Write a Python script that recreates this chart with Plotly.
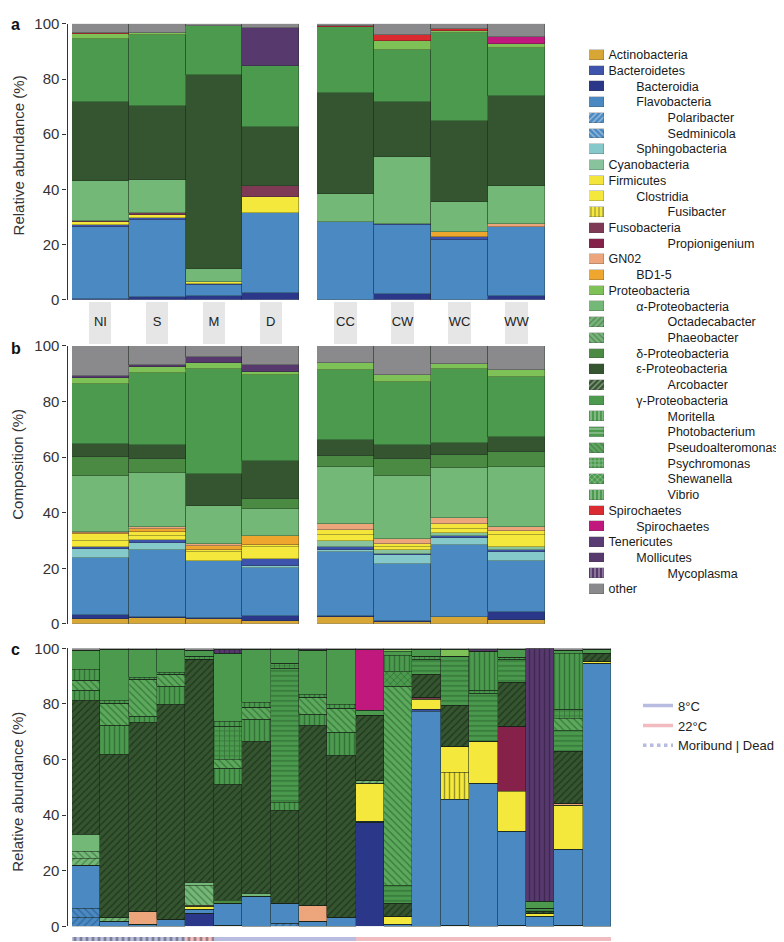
import plotly.graph_objects as go

# ---------------------------------------------------------------- data
samples_left = ["NI", "S", "M", "D"]
samples_right = ["CC", "CW", "WC", "WW"]
samples_c = ["c01", "c02", "c03", "c04", "c05", "c06", "c07", "c08", "c09", "c10",
             "c11", "c12", "c13", "c14", "c15", "c16", "c17", "c18", "c19"]
temperature_c = ["8°C", "8°C", "8°C", "8°C", "22°C", "8°C", "8°C", "8°C", "8°C", "8°C",
                 "22°C", "22°C", "22°C", "22°C", "22°C", "22°C", "22°C", "22°C", "22°C"]
condition_c = ["Moribund", "Moribund", "Moribund", "Moribund", "Moribund",
               "Dead", "Dead", "Dead", "Dead", "Dead", "Dead", "Dead", "Dead", "Dead",
               "Dead", "Dead", "Dead", "Dead", "Dead"]

# legend order (keys), display labels and hierarchy level
taxa = ["Actinobacteria", "Bacteroidetes", "Bacteroidia", "Flavobacteria", "Polaribacter",
        "Sedminicola", "Sphingobacteria", "Cyanobacteria", "Firmicutes", "Clostridia",
        "Fusibacter", "Fusobacteria", "Propionigenium", "GN02", "BD1-5", "Proteobacteria",
        "α-Proteobacteria", "Octadecabacter", "Phaeobacter", "δ-Proteobacteria",
        "ε-Proteobacteria", "Arcobacter", "γ-Proteobacteria", "Moritella", "Photobacterium",
        "Pseudoalteromonas", "Psychromonas", "Shewanella", "Vibrio", "Spirochaetes",
        "Spirochaetes (class)", "Tenericutes", "Mollicutes", "Mycoplasma", "other"]
taxa_label = ["Actinobacteria", "Bacteroidetes", "Bacteroidia", "Flavobacteria", "Polaribacter",
              "Sedminicola", "Sphingobacteria", "Cyanobacteria", "Firmicutes", "Clostridia",
              "Fusibacter", "Fusobacteria", "Propionigenium", "GN02", "BD1-5", "Proteobacteria",
              "α-Proteobacteria", "Octadecabacter", "Phaeobacter", "δ-Proteobacteria",
              "ε-Proteobacteria", "Arcobacter", "γ-Proteobacteria", "Moritella", "Photobacterium",
              "Pseudoalteromonas", "Psychromonas", "Shewanella", "Vibrio", "Spirochaetes",
              "Spirochaetes", "Tenericutes", "Mollicutes", "Mycoplasma", "other"]
taxa_level = [0, 0, 1, 1, 2, 2, 1, 0, 0, 1, 2, 0, 2, 0, 1, 0, 1, 2, 2, 1,
              1, 2, 1, 2, 2, 2, 2, 2, 2, 0, 1, 0, 1, 2, 0]
taxa_color = ["#D8A634", "#3E53AC", "#2B388A", "#4A89C2", "#4A89C2",
              "#4A89C2", "#86C9CA", "#88C39E", "#F4E53A", "#F4E83C",
              "#F4E83C", "#7E3A55", "#86224A", "#EDA67B", "#EEA62F", "#7EC157",
              "#74B877", "#74B877", "#74B877", "#4A8A43",
              "#34552F", "#34552F", "#4B9A4E", "#4B9A4E", "#4B9A4E",
              "#5BAA5C", "#4B9A4E", "#4B9A4E", "#4B9A4E", "#DB2B30",
              "#C0187C", "#5A3C74", "#57396E", "#57396E", "#8A8A8C"]
taxa_pattern = ["", "", "", "", "/", "\\", "", "", "", "", "|", "", "", "", "", "",
                "", "/", "\\", "", "", "/", "", "|", "-", "\\", "+", "x", "|", "",
                "", "", "", "|", ""]
taxa_pattern_color = ["#000", "#000", "#000", "#000", "#1E4A7A", "#1E4A7A", "#000", "#000",
                      "#000", "#000", "#3A3A10", "#000", "#000", "#000", "#000", "#000",
                      "#000", "#24502A", "#24502A", "#000", "#000", "#0E1A0C", "#000",
                      "#1D4A20", "#1D4A20", "#1D4A20", "#1D4A20", "#1D4A20", "#1D4A20",
                      "#000", "#000", "#000", "#000", "#2A1838", "#000"]

# bottom-to-top stacking order
stack_order = ["Actinobacteria", "Bacteroidia", "Polaribacter", "Sedminicola", "Flavobacteria",
               "Sphingobacteria", "Bacteroidetes", "Cyanobacteria", "Fusibacter", "Clostridia",
               "Firmicutes", "Propionigenium", "Fusobacteria", "BD1-5", "GN02",
               "Octadecabacter", "Phaeobacter", "α-Proteobacteria", "δ-Proteobacteria",
               "Arcobacter", "ε-Proteobacteria", "Vibrio", "Photobacterium",
               "Pseudoalteromonas", "Psychromonas", "Shewanella", "Moritella",
               "γ-Proteobacteria", "Proteobacteria", "Spirochaetes (class)", "Spirochaetes",
               "Mycoplasma", "Mollicutes", "Tenericutes", "other"]

# panel a: relative abundance, order NI, S, M, D, CC, CW, WC, WW
panel_a = {
    "Bacteroidia":          [0.5, 1.0, 1.5, 2.6, 0.0, 2.0, 0.0, 1.5],
    "Flavobacteria":        [26.1, 27.9, 3.9, 28.8, 28.1, 25.0, 21.8, 25.0],
    "Bacteroidetes":        [0.5, 0.8, 0.3, 0.0, 0.3, 0.7, 0.9, 0.0],
    "Clostridia":           [1.2, 0.9, 0.8, 5.9, 0.0, 0.0, 0.0, 0.0],
    "Fusobacteria":         [0.4, 0.8, 0.0, 3.9, 0.0, 0.0, 0.0, 0.0],
    "BD1-5":                [0.0, 0.0, 0.0, 0.0, 0.0, 0.0, 2.1, 0.0],
    "GN02":                 [0.0, 0.0, 0.0, 0.0, 0.0, 0.0, 0.0, 1.1],
    "α-Proteobacteria":     [14.5, 11.9, 4.8, 0.0, 9.9, 24.0, 10.6, 13.7],
    "ε-Proteobacteria":     [28.4, 26.9, 70.1, 21.5, 36.8, 20.0, 29.5, 32.6],
    "γ-Proteobacteria":     [22.8, 25.8, 17.8, 21.9, 23.7, 18.9, 31.8, 17.3],
    "Proteobacteria":       [1.9, 0.7, 0.0, 0.0, 0.0, 3.2, 0.8, 1.6],
    "Spirochaetes":         [0.3, 0.0, 0.0, 0.0, 0.6, 2.1, 0.8, 0.0],
    "Spirochaetes (class)": [0.0, 0.0, 0.0, 0.0, 0.0, 0.0, 0.0, 2.5],
    "Mollicutes":           [0.0, 0.0, 0.0, 14.0, 0.0, 0.0, 0.0, 0.0],
    "other":                [3.4, 3.3, 0.8, 1.4, 0.6, 4.1, 1.7, 4.7],
}

# panel b: composition, order NI, S, M, D, CC, CW, WC, WW
panel_b = {
    "Actinobacteria":   [1.8, 2.0, 1.6, 1.2, 2.5, 0.8, 2.4, 1.3],
    "Bacteroidia":      [1.5, 0.6, 0.5, 1.8, 0.3, 0.4, 0.2, 3.0],
    "Flavobacteria":    [20.4, 23.9, 20.4, 17.1, 23.1, 20.3, 25.8, 18.4],
    "Sphingobacteria":  [3.3, 2.6, 0.0, 0.7, 0.6, 3.2, 2.5, 3.0],
    "Bacteroidetes":    [0.8, 1.0, 0.0, 2.5, 1.3, 0.6, 0.9, 1.0],
    "Cyanobacteria":    [0.0, 0.0, 0.0, 0.0, 2.2, 1.2, 0.8, 1.0],
    "Clostridia":       [2.0, 1.4, 3.2, 4.3, 2.0, 1.3, 1.6, 4.3],
    "Firmicutes":       [2.4, 1.5, 0.8, 0.8, 1.8, 0.9, 1.7, 1.3],
    "BD1-5":            [0.4, 1.0, 1.6, 3.4, 0.0, 0.0, 0.0, 0.0],
    "GN02":             [0.6, 0.9, 0.6, 0.0, 2.1, 1.9, 2.1, 1.7],
    "α-Proteobacteria": [20.2, 19.4, 13.8, 9.5, 20.4, 22.7, 18.0, 21.3],
    "δ-Proteobacteria": [6.8, 5.0, 0.0, 3.5, 4.1, 6.2, 4.7, 5.4],
    "ε-Proteobacteria": [4.6, 5.0, 11.6, 13.9, 5.9, 4.7, 4.4, 5.5],
    "γ-Proteobacteria": [21.4, 26.0, 37.6, 30.7, 25.1, 22.7, 26.5, 21.8],
    "Proteobacteria":   [2.2, 2.0, 2.3, 1.3, 2.6, 2.7, 1.8, 2.4],
    "Mollicutes":       [0.9, 0.7, 2.0, 2.5, 0.0, 0.0, 0.0, 0.0],
    "other":            [10.7, 7.0, 4.0, 6.8, 6.0, 10.4, 6.6, 8.6],
}

# panel c: 19 individual samples
panel_c = {
    "Bacteroidia":          [0, 0, 0, 0, 4.6, 0.3, 0, 0, 0, 0, 37.3, 0, 0, 0.5, 0, 0.3, 0, 0.3, 0],
    "Polaribacter":         [3.3, 0, 0, 0, 0, 0, 0, 1.0, 0, 0, 0, 0, 0, 0, 0, 0, 0, 0, 0],
    "Sedminicola":          [3.3, 0, 0, 0, 0, 0, 0, 0, 0, 0, 0, 0, 0, 0, 0, 0, 0, 0, 0],
    "Flavobacteria":        [15.3, 1.9, 0.8, 2.5, 1.5, 7.8, 10.7, 7.1, 1.9, 3.1, 0.6, 0.8, 77.3, 45.0, 51.4, 33.7, 3.7, 27.3, 94.7],
    "Bacteroidetes":        [0, 0, 0, 0, 0, 0, 0, 0, 0, 0, 0, 0, 0.6, 0, 0, 0, 0, 0, 0],
    "Fusibacter":           [0, 0, 0, 0, 0, 0, 0, 0, 0, 0, 0, 0, 0, 10.0, 0, 0, 0, 0, 0],
    "Clostridia":           [0, 0, 0, 0, 1.1, 0, 0, 0, 0, 0, 13.6, 2.6, 3.8, 9.4, 15.3, 14.4, 0.8, 15.9, 0.6],
    "Propionigenium":       [0, 0, 0, 0, 0, 0, 0, 0, 0, 0, 0, 0, 0, 0, 0, 23.6, 0, 0, 0],
    "Fusobacteria":         [0, 0, 0, 0, 0, 0, 0, 0, 0, 0, 0, 0, 0.7, 0, 0, 0, 0, 0, 0],
    "GN02":                 [0, 0, 4.6, 0, 0.5, 0, 0, 0, 5.6, 0, 0, 0, 0, 0, 0, 0, 0, 0.7, 0],
    "Octadecabacter":       [2.7, 1.2, 0, 0, 0, 0, 0, 0, 0, 0, 1.0, 0, 0, 0, 0, 0, 0, 0, 0],
    "Phaeobacter":          [2.4, 0, 0, 0, 7.1, 0, 0, 0, 0, 0, 0, 0, 0, 0, 0, 0, 0, 0, 0],
    "α-Proteobacteria":     [6.1, 0, 0, 0, 1.0, 0, 1.3, 0, 0, 0, 0, 0, 0, 0, 0, 0, 0, 0, 0],
    "δ-Proteobacteria":     [0, 0, 0, 0, 0, 1.2, 0, 0.6, 0, 0, 0, 0, 0, 0, 0, 0, 0, 0, 0],
    "Arcobacter":           [48.3, 58.6, 68.1, 77.2, 80.1, 41.6, 54.7, 33.0, 64.8, 58.3, 23.4, 4.7, 8.2, 14.7, 0, 15.6, 0.8, 18.7, 2.9],
    "Vibrio":               [3.5, 10.6, 2.0, 6.7, 0, 5.9, 7.6, 2.9, 3.8, 8.3, 0, 0, 0, 0, 0, 0, 0, 0, 0],
    "Photobacterium":       [0, 0, 0, 0, 0, 0, 0, 48.3, 0, 0, 0, 6.5, 5.5, 17.4, 17.2, 8.3, 1.3, 7.7, 0],
    "Pseudoalteromonas":    [3.6, 7.9, 13.3, 4.2, 0, 3.2, 4.5, 0, 6.2, 8.7, 0, 71.6, 0, 0, 0, 0, 0, 4.1, 0],
    "Psychromonas":         [0, 0, 0, 0, 1.4, 12.1, 0, 1.6, 0, 0, 0, 0, 0.9, 0, 1.0, 1.0, 0, 3.5, 0],
    "Shewanella":           [0, 0, 0, 0, 0, 0, 0, 0, 0, 0, 0, 5.6, 0, 0, 0, 0, 0, 0, 0],
    "Moritella":            [3.8, 1.2, 0.8, 0.9, 0, 1.6, 1.7, 0, 1.2, 1.6, 0, 5.6, 0, 0, 13.9, 0, 0, 20.0, 0],
    "γ-Proteobacteria":     [7.1, 18.2, 10.1, 8.1, 2.1, 24.5, 19.1, 5.1, 15.8, 19.5, 1.7, 1.4, 2.8, 0, 0, 2.6, 2.4, 1.2, 1.6],
    "Proteobacteria":       [0, 0, 0, 0, 0, 0, 0, 0, 0, 0, 0, 1.0, 0, 2.6, 0, 0, 0, 0, 0],
    "Spirochaetes (class)": [0, 0, 0, 0, 0, 0, 0, 0, 0, 0, 22.2, 0, 0, 0, 0, 0, 0, 0, 0],
    "Mycoplasma":           [0, 0, 0, 0, 0, 1.4, 0, 0, 0, 0, 0, 0, 0, 0, 0, 0, 91.0, 0, 0],
    "Mollicutes":           [0, 0, 0, 0, 0, 0, 0, 0, 0.4, 0, 0, 0, 0, 0, 1.0, 0, 0, 0, 0],
    "other":                [0.6, 0.4, 0.3, 0.4, 0.6, 0.4, 0.4, 0.4, 0.3, 0.5, 0.2, 0.2, 0.2, 0.4, 0.2, 0.5, 0, 0.6, 0.2],
}

temperature_colors = {"8°C": "#B7BCE0", "22°C": "#F2BBC0"}
condition_patterns = {"Moribund": "|", "Dead": ""}

# ---------------------------------------------------------------- helpers
W, H = 784, 942
FONT = "Liberation Sans, Arial, Helvetica, sans-serif"
INDENT = [0, 8, 17]


def dx(a, b):
    return [a / W, b / W]


def dy(top, bottom):
    return [1 - bottom / H, 1 - top / H]


def marker_for(key):
    i = taxa.index(key)
    return dict(
        color=taxa_color[i],
        line=dict(color="rgba(25,35,25,0.55)", width=0.6),
        pattern=dict(shape=taxa_pattern[i], fgcolor=taxa_pattern_color[i],
                     bgcolor=taxa_color[i], fillmode="overlay", size=5, solidity=0.28),
    )


fig = go.Figure()


def add_stack(data, cats, sl, xa, ya):
    for key in stack_order:
        if key not in data:
            continue
        vals = data[key][sl]
        if not any(vals):
            continue
        fig.add_trace(go.Bar(x=cats, y=vals, xaxis=xa, yaxis=ya, name=key,
                             marker=marker_for(key), showlegend=False,
                             hovertemplate=key + ": %{y}%<extra></extra>"))


add_stack(panel_a, samples_left, slice(0, 4), "x", "y")
add_stack(panel_a, samples_right, slice(4, 8), "x2", "y")
add_stack(panel_b, samples_left, slice(0, 4), "x3", "y2")
add_stack(panel_b, samples_right, slice(4, 8), "x4", "y2")
add_stack(panel_c, samples_c, slice(0, 19), "x5", "y3")

# facet strips with sample-group labels
for cats, xa in ((samples_left, "x6"), (samples_right, "x7")):
    fig.add_trace(go.Bar(x=cats, y=[1] * len(cats), width=0.39, xaxis=xa, yaxis="y4",
                         marker=dict(color="#E6E6E6", line=dict(width=0)),
                         showlegend=False, hoverinfo="skip"))
    fig.add_trace(go.Scatter(x=cats, y=[0.5] * len(cats), mode="text", text=cats,
                             textfont=dict(size=13, color="#222", family=FONT),
                             xaxis=xa, yaxis="y4", showlegend=False, hoverinfo="skip"))

# taxa legend as swatch column with labels
nb = "\u00a0"
legend_labels = [nb * INDENT[lv] + lab for lv, lab in zip(taxa_level, taxa_label)]
fig.add_trace(go.Bar(
    y=legend_labels, x=[1] * len(taxa), orientation="h", width=0.62,
    xaxis="x8", yaxis="y5", showlegend=False, hoverinfo="skip",
    marker=dict(color=taxa_color, line=dict(color="rgba(60,60,60,0.5)", width=0.5),
                pattern=dict(shape=taxa_pattern, fgcolor=taxa_pattern_color,
                             bgcolor=taxa_color, fillmode="overlay", size=4, solidity=0.3)),
))

# temperature / condition indicator under panel c
fig.add_trace(go.Bar(
    x=samples_c, y=[1] * len(samples_c), xaxis="x9", yaxis="y6", showlegend=False,
    hoverinfo="skip",
    marker=dict(color=[temperature_colors[t] for t in temperature_c], line=dict(width=0),
                pattern=dict(shape=[condition_patterns[c] for c in condition_c],
                             fgcolor="white", bgcolor=[temperature_colors[t] for t in temperature_c],
                             fillmode="overlay", size=6, solidity=0.45)),
))

# legend entries for panel c indicators
for name, col, dash in (("8°C", temperature_colors["8°C"], "solid"),
                        ("22°C", temperature_colors["22°C"], "solid"),
                        ("Moribund | Dead", temperature_colors["8°C"], "dot")):
    fig.add_trace(go.Scatter(x=[None], y=[None], mode="lines", name=name,
                             line=dict(color=col, width=3.5, dash=dash),
                             xaxis="x9", yaxis="y6", showlegend=True))

# ---------------------------------------------------------------- layout
hidden_cat = dict(type="category", showticklabels=False, showgrid=False, zeroline=False,
                  showline=False, ticks="", fixedrange=True)
yax = dict(range=[0, 100], anchor="free", position=58.5 / W, showline=True,
           linecolor="#333", linewidth=1.3, ticks="outside", ticklen=4, tickwidth=1.2,
           tickcolor="#333", tickvals=[0, 20, 40, 60, 80, 100],
           tickfont=dict(size=15, color="#333", family=FONT),
           showgrid=False, zeroline=False, fixedrange=True)
hidden_lin = dict(showticklabels=False, showgrid=False, zeroline=False, showline=False,
                  ticks="", fixedrange=True)

fig.update_layout(
    width=W, height=H, margin=dict(l=0, r=0, t=0, b=0),
    paper_bgcolor="white", plot_bgcolor="white",
    barmode="stack", bargap=0,
    font=dict(family=FONT, color="#222"),
    xaxis=dict(hidden_cat, domain=dx(64, 291), anchor="y",
               categoryorder="array", categoryarray=samples_left),
    xaxis2=dict(hidden_cat, domain=dx(309, 537), anchor="y",
                categoryorder="array", categoryarray=samples_right),
    xaxis3=dict(hidden_cat, domain=dx(64, 291), anchor="y2",
                categoryorder="array", categoryarray=samples_left),
    xaxis4=dict(hidden_cat, domain=dx(309, 537), anchor="y2",
                categoryorder="array", categoryarray=samples_right),
    xaxis5=dict(hidden_cat, domain=dx(64, 603), anchor="y3",
                categoryorder="array", categoryarray=samples_c),
    xaxis6=dict(hidden_cat, domain=dx(64, 291), anchor="y4",
                categoryorder="array", categoryarray=samples_left),
    xaxis7=dict(hidden_cat, domain=dx(309, 537), anchor="y4",
                categoryorder="array", categoryarray=samples_right),
    xaxis8=dict(hidden_lin, domain=dx(581, 596), anchor="y5", range=[0, 1]),
    xaxis9=dict(hidden_cat, domain=dx(64, 603), anchor="y6",
                categoryorder="array", categoryarray=samples_c),
    yaxis=dict(yax, domain=dy(7, 288)),
    yaxis2=dict(yax, domain=dy(335, 618)),
    yaxis3=dict(yax, domain=dy(643, 926)),
    yaxis4=dict(hidden_lin, domain=dy(290, 333), anchor="x6", range=[0, 1]),
    yaxis5=dict(type="category", domain=dy(30.5, 590.5), anchor="x8", side="right",
                autorange="reversed", categoryorder="array", categoryarray=legend_labels,
                tickmode="linear", tick0=0, dtick=1,
                showgrid=False, zeroline=False, showline=False,
                ticks="outside", ticklen=1, tickcolor="rgba(0,0,0,0)",
                tickfont=dict(size=12.5, color="#1a1a1a", family=FONT), fixedrange=True),
    yaxis6=dict(hidden_lin, domain=dy(937, 941), anchor="x9", range=[0, 1]),
    legend=dict(x=630 / W, y=1 - 686 / H, xanchor="left", yanchor="top",
                traceorder="normal",
                font=dict(size=13, color="#222", family=FONT), itemwidth=30,
                bgcolor="rgba(0,0,0,0)", tracegroupgap=0),
)

# panel letters and axis titles
for letter, ypx in (("a", 8), ("b", 338), ("c", 644)):
    fig.add_annotation(text="<b>%s</b>" % letter, x=1 / W, y=1 - ypx / H, xref="paper",
                       yref="paper", xanchor="left", yanchor="middle", showarrow=False,
                       font=dict(size=16, color="#111", family=FONT))
for title, ypx in (("Relative abundance (%)", 141), ("Composition (%)", 456),
                   ("Relative abundance (%)", 789)):
    fig.add_annotation(text=title, x=10 / W, y=1 - ypx / H, xref="paper", yref="paper",
                       xanchor="center", yanchor="middle", textangle=-90, showarrow=False,
                       font=dict(size=15, color="#333", family=FONT))

fig.write_html("out.html")
